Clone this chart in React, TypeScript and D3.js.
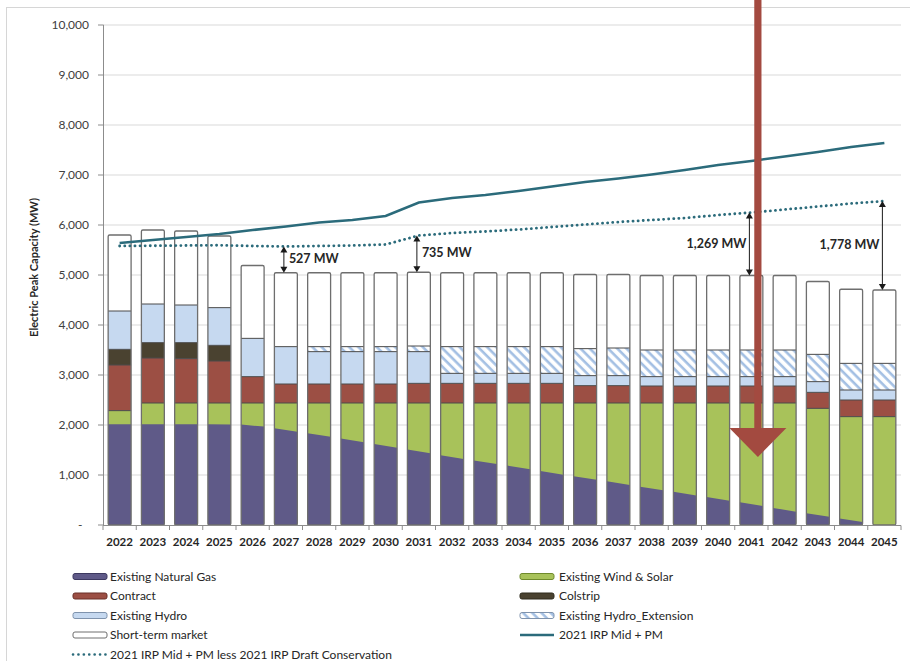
import React from "react";
import * as d3 from "d3";

const years = ["2022","2023","2024","2025","2026","2027","2028","2029","2030","2031","2032","2033","2034","2035","2036","2037","2038","2039","2040","2041","2042","2043","2044","2045"];
const naturalGas = [2013,2013,2013,2013,2005,1897,1800,1693,1583,1473,1357,1257,1153,1043,940,840,727,630,520,423,300,200,93,0];
const windSolar = [274,427,427,427,435,543,640,747,857,967,1083,1183,1287,1397,1500,1600,1713,1810,1920,2017,2140,2133,2074,2167];
const contract = [913,900,887,840,527,380,380,380,380,393,393,393,393,393,347,347,340,340,340,340,340,320,333,333];
const colstrip = [313,307,320,313,0,0,0,0,0,0,0,0,0,0,0,0,0,0,0,0,0,0,0,0];
const hydro = [767,773,753,754,766,747,647,647,647,634,200,200,200,200,200,200,187,187,187,187,187,214,200,200];
const hydroExtension = [0,0,0,0,0,0,100,100,100,113,534,534,534,534,540,553,533,533,533,533,533,546,533,533];
const shortTerm = [1520,1480,1480,1433,1457,1478,1478,1478,1478,1475,1478,1478,1478,1478,1483,1470,1490,1490,1490,1490,1490,1457,1482,1467];
const irpMidPM = [5640,5700,5760,5820,5900,5970,6050,6100,6180,6450,6540,6600,6680,6770,6860,6930,7010,7100,7200,7280,7370,7460,7560,7640];
const irpLessConservation = [5580,5585,5590,5595,5580,5570,5580,5590,5610,5790,5840,5870,5910,5960,6010,6060,6100,6140,6200,6250,6310,6370,6430,6480];
const yTicks = [0,1000,2000,3000,4000,5000,6000,7000,8000,9000,10000];
const gapYears = ["2027","2031","2041","2045"];
const gapLabels = ["527 MW","735 MW","1,269 MW","1,778 MW"];
const gapSides = ["right","right","left","left"];

const C = {
  gas: "#5f5a88",
  wind: "#a8c25a",
  contract: "#9c4f44",
  colstrip: "#4a4230",
  hydro: "#c6d9f0",
  hatch: "#a3bfe3",
  line: "#2b6b7b",
  red: "#a34a40",
  sep: "#4a4a4a",
  outline: "#6e6e6e",
  grid: "#d9d9d9",
};

const FONT = "Lato, 'Open Sans', sans-serif";

export default function App() {
  const x = d3.scaleBand<string>().domain(years).range([103, 901]).paddingInner(0.31).paddingOuter(0.155);
  const y = d3.scaleLinear().domain([0, 10000]).range([525, 25]);
  const bw = x.bandwidth();
  const cx = (yr: string) => (x(yr) as number) + bw / 2;
  const centers = years.map(cx);
  const gasAt = d3.scaleLinear().domain(centers).range(naturalGas).clamp(true);

  const rows = years.map((yr, i) => ({
    year: yr,
    gas: naturalGas[i],
    wind: windSolar[i],
    contract: contract[i],
    colstrip: colstrip[i],
    hydro: hydro[i],
    ext: hydroExtension[i],
    short: shortTerm[i],
  }));
  const keys = ["gas", "wind", "contract", "colstrip", "hydro", "ext", "short"];
  const stacked = d3.stack<any>().keys(keys)(rows);
  const seg = (k: string, i: number) => stacked[keys.indexOf(k)][i];

  const lineGen = d3.line<number>().x((_, i) => centers[i]).y((d) => y(d));

  const legendLeft = [
    { label: "Existing Natural Gas", type: "box", fill: C.gas, stroke: "#3d3960" },
    { label: "Contract", type: "box", fill: C.contract, stroke: "#6b3028" },
    { label: "Existing Hydro", type: "box", fill: C.hydro, stroke: "#7f93ad" },
    { label: "Short-term market", type: "box", fill: "#ffffff", stroke: "#6e6e6e" },
    { label: "2021 IRP Mid + PM less 2021 IRP Draft Conservation", type: "dot" },
  ];
  const legendRight = [
    { label: "Existing Wind & Solar", type: "box", fill: C.wind, stroke: "#6f8a2c" },
    { label: "Colstrip", type: "box", fill: C.colstrip, stroke: "#2e2a1d" },
    { label: "Existing Hydro_Extension", type: "box", fill: "url(#hatch)", stroke: "#7f93ad" },
    { label: "2021 IRP Mid + PM", type: "line" },
  ];
  const rowY = [576.5, 596, 615.5, 635, 654.5];

  const renderLegend = (items: any[], sx: number, tx: number) =>
    items.map((it, i) => {
      const cy = rowY[i];
      return (
        <g key={it.label}>
          {it.type === "box" && (
            <rect x={sx} y={cy - 3} width={34} height={6} rx={2} fill={it.fill} stroke={it.stroke} strokeWidth={1} />
          )}
          {it.type === "line" && (
            <line x1={sx} x2={sx + 34} y1={cy} y2={cy} stroke={C.line} strokeWidth={2.5} />
          )}
          {it.type === "dot" && (
            <line x1={sx} x2={sx + 33} y1={cy} y2={cy} stroke={C.line} strokeWidth={2.6} strokeDasharray="0.1 5.3" strokeLinecap="round" />
          )}
          <text x={tx} y={cy + 4.2} fontSize={12} fill="#262626" fontFamily={FONT}>{it.label}</text>
        </g>
      );
    });

  const redX = cx("2041") + 6.5;

  return (
    <svg width={910} height={661} style={{ position: "absolute", left: 0, top: 0, background: "#fff" }} fontFamily={FONT}>
      <defs>
        <pattern id="hatch" patternUnits="userSpaceOnUse" width={6.5} height={6.5} patternTransform="rotate(-45)">
          <rect width={6.5} height={6.5} fill="#ffffff" />
          <line x1={1.6} y1={0} x2={1.6} y2={6.5} stroke={C.hatch} strokeWidth={2.6} />
        </pattern>
      </defs>
      <rect x={0} y={0} width={910} height={661} fill="#fff" />
      <rect x={6.5} y={7.5} width={1000} height={1000} fill="none" stroke="#d6d6d6" strokeWidth={1} />

      {yTicks.filter((t) => t > 0).map((t) => (
        <line key={t} x1={103} x2={901} y1={y(t)} y2={y(t)} stroke={C.grid} strokeWidth={1} />
      ))}

      <line x1={103.5} x2={103.5} y1={y(10000)} y2={y(0)} stroke="#8c8c8c" />
      {yTicks.map((t) => (
        <g key={"yt" + t}>
          <line x1={98} x2={103.5} y1={y(t)} y2={y(t)} stroke="#8c8c8c" />
          <text x={t === 0 ? 82.5 : 89} y={y(t) + 4} textAnchor="end" fontSize={12} fill="#404040">
            {t === 0 ? "-" : d3.format(",")(t)}
          </text>
        </g>
      ))}
      <text transform="translate(38,267.5) rotate(-90)" textAnchor="middle" fontSize={11} fontWeight="bold" fill="#262626">
        Electric Peak Capacity (MW)
      </text>

      {years.map((yr, i) => {
        const x0 = x(yr) as number;
        const x1 = x0 + bw;
        const windTop = seg("wind", i)[1];
        const gL = naturalGas[i] > 0 ? gasAt(x0) : 0;
        const gR = naturalGas[i] > 0 ? gasAt(x1) : 0;
        const rectFor = (k: string, fill: string) => {
          const s = seg(k, i);
          if (s[1] - s[0] <= 0) return null;
          return <rect x={x0} y={y(s[1])} width={bw} height={y(s[0]) - y(s[1])} fill={fill} />;
        };
        const seps: number[] = [windTop, seg("contract", i)[1]];
        if (colstrip[i] > 0) seps.push(seg("colstrip", i)[1]);
        seps.push(seg("hydro", i)[1]);
        if (hydroExtension[i] > 0) seps.push(seg("ext", i)[1]);
        const total = seg("short", i)[1];
        return (
          <g key={yr}>
            <rect x={x0} y={y(windTop)} width={bw} height={y(0) - y(windTop)} fill={C.wind} />
            {naturalGas[i] > 0 && (
              <path d={`M${x0},${y(0)}L${x1},${y(0)}L${x1},${y(gR)}L${x0},${y(gL)}Z`} fill={C.gas} />
            )}
            {rectFor("contract", C.contract)}
            {rectFor("colstrip", C.colstrip)}
            {rectFor("hydro", C.hydro)}
            {rectFor("ext", "url(#hatch)")}
            {rectFor("short", "#ffffff")}
            {seps.map((v, k) => (
              <line key={k} x1={x0} x2={x1} y1={y(v)} y2={y(v)} stroke={C.sep} strokeWidth={1} />
            ))}
            <rect x={x0} y={y(total)} width={bw} height={y(0) - y(total)} fill="none" stroke={C.outline} strokeWidth={1.3} rx={1.5} />
          </g>
        );
      })}

      <line x1={103} x2={901} y1={525.5} y2={525.5} stroke="#8c8c8c" />
      {years.map((yr) => (
        <line key={"xt" + yr} x1={(x(yr) as number) - (x.step() - bw) / 2} x2={(x(yr) as number) - (x.step() - bw) / 2} y1={525.5} y2={530} stroke="#8c8c8c" />
      ))}
      <line x1={901} x2={901} y1={525.5} y2={530} stroke="#8c8c8c" />
      {years.map((yr) => (
        <text key={"xl" + yr} x={cx(yr)} y={546} textAnchor="middle" fontSize={11.5} fontWeight="bold" fill="#262626">
          {yr}
        </text>
      ))}

      <path d={lineGen(irpMidPM) || ""} fill="none" stroke={C.line} strokeWidth={2.6} />
      <path d={lineGen(irpLessConservation) || ""} fill="none" stroke={C.line} strokeWidth={2.8} strokeDasharray="0.1 5" strokeLinecap="round" />

      {gapYears.map((yr, k) => {
        const i = years.indexOf(yr);
        const ax = cx(yr) - 2;
        const yTop = y(irpLessConservation[i]);
        const yBot = y(seg("short", i)[1]);
        const mid = (yTop + yBot) / 2;
        const right = gapSides[k] === "right";
        return (
          <g key={yr}>
            <line x1={ax} x2={ax} y1={yTop + 5} y2={yBot - 5} stroke="#1a1a1a" strokeWidth={1} />
            <path d={`M${ax},${yTop}L${ax - 3.5},${yTop + 6}L${ax + 3.5},${yTop + 6}Z`} fill="#1a1a1a" />
            <path d={`M${ax},${yBot}L${ax - 3.5},${yBot - 6}L${ax + 3.5},${yBot - 6}Z`} fill="#1a1a1a" />
            <text x={right ? ax + 5 : ax - 3} y={mid + 3.5} textAnchor={right ? "start" : "end"} fontSize={12.5} fontWeight="bold" fill="#262626">
              {gapLabels[k]}
            </text>
          </g>
        );
      })}

      {renderLegend(legendLeft, 73, 110)}
      {renderLegend(legendRight, 520, 559)}

      <rect x={redX - 3.6} y={0} width={7.2} height={y(1940) + 2} fill={C.red} />
      <path d={`M${redX - 28.5},${y(1940)}L${redX + 28.5},${y(1940)}L${redX},${y(1360)}Z`} fill={C.red} />
    </svg>
  );
}
